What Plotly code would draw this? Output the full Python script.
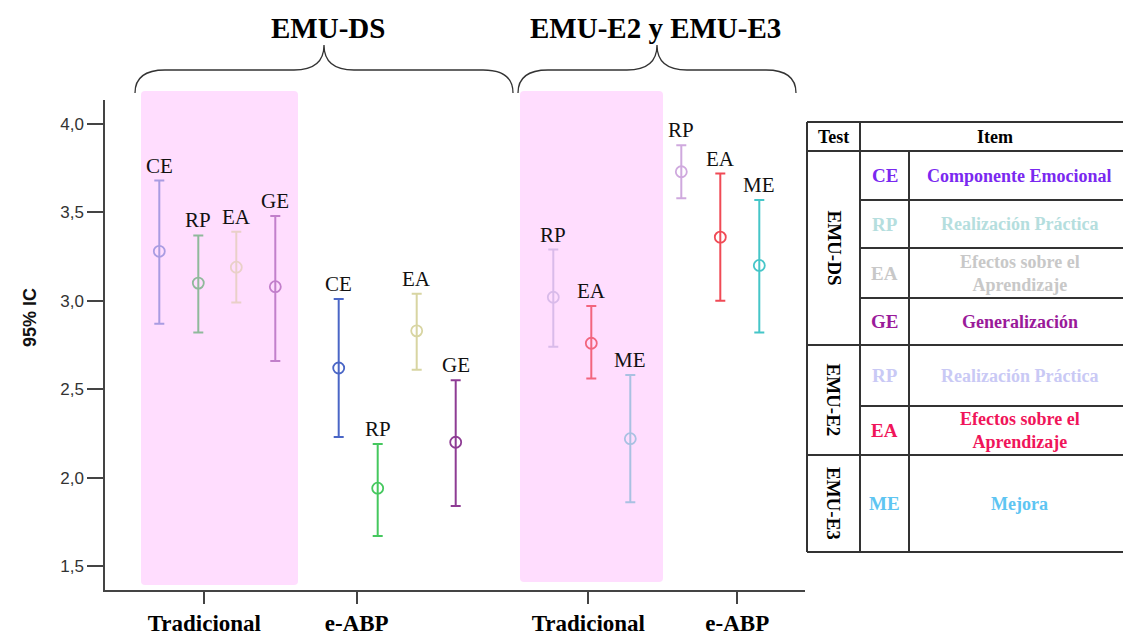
import plotly.graph_objects as go

# ---------------- data ----------------
group_labels = ["Tradicional", "e-ABP", "Tradicional", "e-ABP"]
point_group = [0, 0, 0, 0, 1, 1, 1, 1, 2, 2, 2, 3, 3, 3]
point_item = ["CE", "RP", "EA", "GE", "CE", "RP", "EA", "GE", "RP", "EA", "ME", "RP", "EA", "ME"]
point_mean = [3.28, 3.10, 3.19, 3.08, 2.62, 1.94, 2.83, 2.20, 3.02, 2.76, 2.22, 3.73, 3.36, 3.20]
point_low = [2.87, 2.82, 2.99, 2.66, 2.23, 1.67, 2.61, 1.84, 2.74, 2.56, 1.86, 3.58, 3.00, 2.82]
point_high = [3.68, 3.37, 3.39, 3.48, 3.01, 2.19, 3.04, 2.55, 3.29, 2.97, 2.58, 3.88, 3.72, 3.57]
y_ticks = [1.5, 2.0, 2.5, 3.0, 3.5, 4.0]

section_titles = ["EMU-DS", "EMU-E2 y EMU-E3"]

table_tests = ["EMU-DS", "EMU-E2", "EMU-E3"]
table_codes = ["CE", "RP", "EA", "GE", "RP", "EA", "ME"]
table_items = ["Componente Emocional", "Realización Práctica", "Efectos sobre el<br>Aprendizaje",
               "Generalización", "Realización Práctica", "Efectos sobre el<br>Aprendizaje", "Mejora"]

# ---------------- style / layout ----------------
point_colors = ["#A99CE2", "#8FB99B", "#E9D0C8", "#C27FCB",
                "#4A66C6", "#45C85E", "#D8D5A2", "#8E3C94",
                "#D9BBEA", "#F2657E", "#A9C1E2",
                "#CFA9DE", "#F04A55", "#45C6C8"]
table_colors = ["#7A28F0", "#B5DEDE", "#C8C8C8", "#9A1A9A", "#C9C9F5", "#F0155A", "#5EC5F2"]
group_x = [99.3, 251.7, 483.3, 632.3]
item_offset = [-45, -6, 32, 71, -18, 21, 60, 99, -35, 3, 42, -56, -17, 22]

OFF = 8                         # page body margin of the html page
W, H = 1131 - OFF, 635 - OFF
PL, PR, PT, PB = 105, 805, 100, 590   # plot area in page pixels
SERIF = "Liberation Serif"
SANS = "Liberation Sans"

def px(x):
    return (x - PL) / (PR - PL)

def py(y):
    return (PB - y) / (PB - PT)

def ann(x, y, text, size, color="#000", family=SERIF, angle=0):
    fig.add_annotation(x=px(x), y=py(y), xref="paper", yref="paper", text=text,
                       xanchor="center", yanchor="middle", textangle=angle, showarrow=False,
                       font=dict(family=family, size=size, color=color))

fig = go.Figure()

for i in range(len(point_mean)):
    xv = group_x[point_group[i]] + item_offset[i]
    fig.add_trace(go.Scatter(
        x=[xv], y=[point_mean[i]], mode="markers",
        marker=dict(symbol="circle-open", size=11, color=point_colors[i],
                    line=dict(width=1.8, color=point_colors[i])),
        error_y=dict(type="data", symmetric=False,
                     array=[point_high[i] - point_mean[i]],
                     arrayminus=[point_mean[i] - point_low[i]],
                     color=point_colors[i], thickness=2, width=5),
        showlegend=False, hoverinfo="skip"))
    fig.add_annotation(x=xv, y=point_high[i], text=point_item[i], showarrow=False,
                       xref="x", yref="y", xanchor="center", yanchor="bottom", yshift=1,
                       font=dict(family=SERIF, size=21, color="#111"))

shapes = []

def rounded_rect(x0, y0, x1, y1, r=4):
    return (f"M {px(x0+r)},{py(y0)} L {px(x1-r)},{py(y0)} Q {px(x1)},{py(y0)} {px(x1)},{py(y0+r)} "
            f"L {px(x1)},{py(y1-r)} Q {px(x1)},{py(y1)} {px(x1-r)},{py(y1)} "
            f"L {px(x0+r)},{py(y1)} Q {px(x0)},{py(y1)} {px(x0)},{py(y1-r)} "
            f"L {px(x0)},{py(y0+r)} Q {px(x0)},{py(y0)} {px(x0+r)},{py(y0)} Z")

for (x0, y0, x1, y1) in [(141, 91, 298, 585), (520, 91, 663, 582)]:
    shapes.append(dict(type="path", path=rounded_rect(x0, y0, x1, y1), xref="paper", yref="paper",
                       fillcolor="#FFDDFE", line=dict(width=0), layer="below"))

def brace(x0, x1, xm, ybot=93, ymid=70, ytop=45, c=30):
    p = (f"M {px(x0)},{py(ybot)} Q {px(x0)},{py(ymid)} {px(x0+c)},{py(ymid)} "
         f"L {px(xm-c)},{py(ymid)} Q {px(xm)},{py(ymid)} {px(xm)},{py(ytop)} "
         f"Q {px(xm)},{py(ymid)} {px(xm+c)},{py(ymid)} "
         f"L {px(x1-c)},{py(ymid)} Q {px(x1)},{py(ymid)} {px(x1)},{py(ybot)}")
    return dict(type="path", path=p, xref="paper", yref="paper",
                line=dict(color="#333", width=1.3))

shapes.append(brace(135, 513, 324))
shapes.append(brace(518, 796, 657))

for txt, xc in zip(section_titles, [328, 655]):
    ann(xc, 28, f"<b>{txt}</b>", 29)

# ---------------- table ----------------
TX = [807, 860, 909, 1130]
TY = [122, 151, 200, 248, 298, 345, 406, 455, 552]
lc = dict(color="#333", width=2)

def hline(x0, x1, y):
    shapes.append(dict(type="line", xref="paper", yref="paper", x0=px(x0), x1=px(x1),
                       y0=py(y), y1=py(y), line=lc))

def vline(x, y0, y1):
    shapes.append(dict(type="line", xref="paper", yref="paper", x0=px(x), x1=px(x),
                       y0=py(y0), y1=py(y1), line=lc))

for y in [TY[0], TY[1], TY[5], TY[7], TY[8]]:
    hline(TX[0], TX[3], y)
for y in [TY[2], TY[3], TY[4], TY[6]]:
    hline(TX[1], TX[3], y)
vline(TX[0], TY[0], TY[8]); vline(TX[1], TY[0], TY[8]); vline(TX[2], TY[1], TY[8]); vline(TX[3], TY[0], TY[8])

ann((TX[0]+TX[1])/2, (TY[0]+TY[1])/2, "<b>Test</b>", 18)
ann((TX[1]+TX[3])/2, (TY[0]+TY[1])/2, "<b>Item</b>", 18)

test_spans = [(TY[1], TY[5]), (TY[5], TY[7]), (TY[7], TY[8])]
for t, (a, b) in zip(table_tests, test_spans):
    ann((TX[0]+TX[1])/2, (a+b)/2, f"<b>{t}</b>", 19, angle=90)

row_bounds = [(TY[1], TY[2]), (TY[2], TY[3]), (TY[3], TY[4]), (TY[4], TY[5]),
              (TY[5], TY[6]), (TY[6], TY[7]), (TY[7], TY[8])]
for code, item, col, (a, b) in zip(table_codes, table_items, table_colors, row_bounds):
    ann((TX[1]+TX[2])/2, (a+b)/2, f"<b>{code}</b>", 19, col)
    ann((TX[2]+TX[3])/2, (a+b)/2, f"<b>{item}</b>", 18, col)

ann(30, 318, "<b>95% IC</b>", 18, "#111", SANS, -90)

y_top = 4.0 + (124 - PT) / 176.8
y_bot = 4.0 - (PB - 124) / 176.8

fig.update_layout(
    width=W, height=H,
    margin=dict(l=PL - OFF, r=1131 - PR, t=PT - OFF, b=635 - PB, pad=0, autoexpand=False),
    paper_bgcolor="white", plot_bgcolor="rgba(0,0,0,0)",
    separators=",.",
    shapes=shapes,
    xaxis=dict(range=[0, PR - PL], tickvals=group_x, ticktext=[f"<b>{g}</b>" for g in group_labels],
               showgrid=False, zeroline=False, showline=True, linecolor="#444", linewidth=1.5,
               ticks="outside", ticklen=12, tickwidth=1.5, tickcolor="#444", automargin=False,
               tickfont=dict(family=SERIF, size=23, color="#000"), fixedrange=True),
    yaxis=dict(range=[y_bot, y_top], tickvals=y_ticks, tickformat=".1f",
               showgrid=False, zeroline=False, showline=True, linecolor="#444", linewidth=1.5,
               ticks="outside", ticklen=16, tickwidth=1.5, tickcolor="#444", automargin=False,
               tickfont=dict(family=SANS, size=17, color="#333"), fixedrange=True),
)

fig.write_html("out.html")
